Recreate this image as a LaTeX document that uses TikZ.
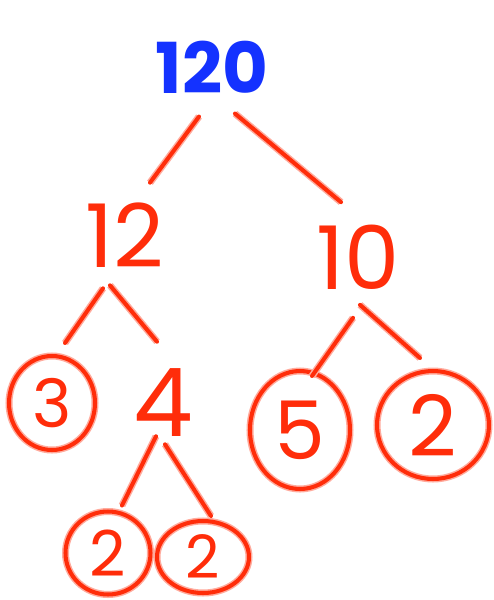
\documentclass[tikz,border=0pt]{standalone}
\usepackage{fontspec}
\setmainfont{Poppins}
\usetikzlibrary{shapes.geometric, calc}

\definecolor{penred}{RGB}{255,45,10}
\definecolor{penblue}{RGB}{20,50,255}

\begin{document}
\begin{tikzpicture}[
    x=0.02cm,
    y=-0.02cm,
    every node/.style={inner sep=0pt},
    rootnum/.style={
        text=penblue,
        font=\fontsize{40}{40}\selectfont\bfseries,
        minimum width=2cm,
        minimum height=1cm
    },
    factor/.style={
        text=penred,
        font=\fontsize{50}{50}\selectfont
    },
    prime/.style={
        ellipse,
        draw=penred,
        line width=2.3pt,
        preaction={draw=penred!40, line width=4pt},
        text=penred
    },
    branch/.style={
        draw=penred,
        line width=2.3pt,
        line cap=round,
        preaction={draw=penred!40, line width=4pt}
    }
]
\useasboundingbox (0,0) rectangle (494,600);

% ============================================
% Root and first split
% ============================================
\node[rootnum] (root) at (212,67) {120};

\node[factor, minimum width=1.8cm, minimum height=1.4cm] (n12) at (125,235) {12};
\node[factor, minimum width=1.56cm, minimum height=1.3cm] (n10) at (358,257) {10};

\draw[branch] ([shift={(-13,23)}]root.south) -- ([shift={(25,-17)}]n12.north);
\draw[branch] ([shift={(23,20)}]root.south) -- ([shift={(-17,-22)}]n10.north);

% ============================================
% 12 = 3 x 4, 4 = 2 x 2
% ============================================
\node[prime, minimum width=1.72cm, minimum height=1.88cm, font=\fontsize{38}{38}\selectfont] (n3) at (52,403) {3};
\node[factor, minimum width=0.9cm, minimum height=1.34cm, font=\fontsize{54}{54}\selectfont] (n4) at (163,403) {4};

\draw[branch] ([shift={(-22,18)}]n12.south) -- ([shift={(13,-11)}]n3.north);
\draw[branch] ([shift={(-15,15)}]n12.south) -- ([shift={(-6,-27)}]n4.north);

\node[prime, minimum width=1.7cm, minimum height=1.66cm, font=\fontsize{36}{36}\selectfont] (n2a) at (108,553) {2};
\node[prime, minimum width=1.84cm, minimum height=1.44cm, font=\fontsize{34}{34}\selectfont] (n2b) at (203,557) {2};

\draw[branch] ([shift={(-7,-1)}]n4.south) -- ([shift={(14,-4)}]n2a.north);
\draw[branch] ([shift={(2,7)}]n4.south) -- ([shift={(8,-3)}]n2b.north);

% ============================================
% 10 = 5 x 2
% ============================================
\node[prime, minimum width=2cm, minimum height=2.36cm, font=\fontsize{46}{46}\selectfont] (n5) at (300,430) {5};
\node[prime, minimum width=2.24cm, minimum height=2.16cm, font=\fontsize{48}{48}\selectfont] (n2c) at (433,425) {2};

\draw[branch] ([shift={(-5,28)}]n10.south) -- ([shift={(12,7)}]n5.north);
\draw[branch] ([shift={(2,15)}]n10.south) -- ([shift={(-13,-11)}]n2c.north);

\end{tikzpicture}
\end{document}
